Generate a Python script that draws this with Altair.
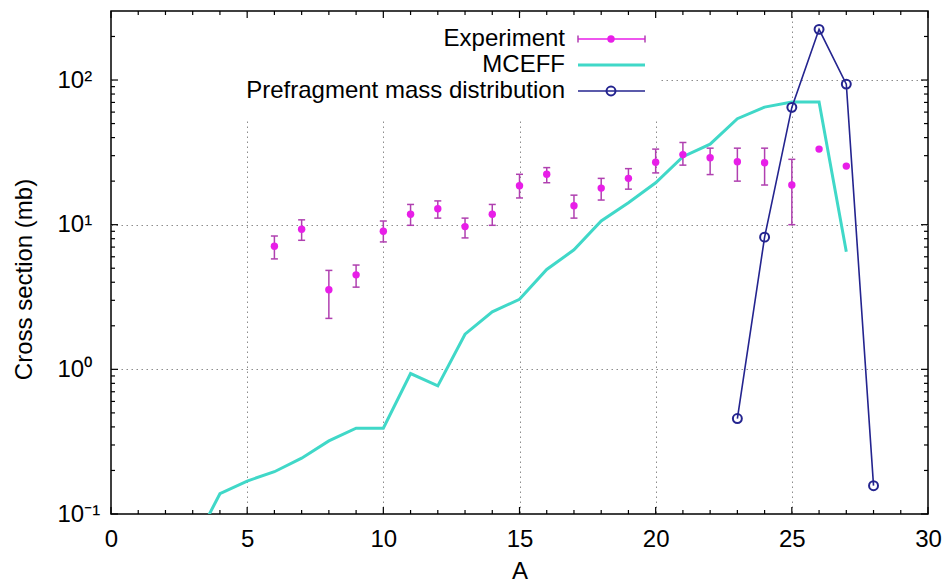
import altair as alt
import pandas as pd

# ---------------- data ----------------
exp_A = list(range(6, 28))
exp_val = [7.1, 9.3, 3.55, 4.5, 9.0, 11.8, 12.9, 9.7, 11.8, 18.6, 22.3, 13.5,
           17.9, 20.9, 27.0, 30.5, 29.0, 27.2, 26.8, 18.8, 33.3, 25.4]
err_A = list(range(6, 26))
err_lo = [5.8, 7.8, 2.25, 3.7, 7.6, 9.9, 11.1, 8.1, 9.9, 15.3, 19.5, 11.1,
          14.8, 17.6, 22.8, 25.8, 22.2, 20.0, 18.8, 10.0]
err_hi = [8.35, 10.8, 4.83, 5.26, 10.6, 13.8, 14.6, 11.1, 13.8, 22.3, 24.8, 16.0,
          20.9, 24.4, 33.3, 37.0, 33.8, 33.8, 33.8, 28.3]

mc_A = list(range(3, 28))
mc_val = [0.06, 0.138, 0.169, 0.196, 0.243, 0.32, 0.392, 0.392, 0.935, 0.769,
          1.75, 2.5, 3.05, 4.9, 6.7, 10.6, 14.2, 19.5, 29.5, 36.0, 54.0, 65.0,
          70.5, 70.5, 6.5]

pf_A = [23, 24, 25, 26, 27, 28]
pf_val = [0.457, 8.2, 64.7, 224.0, 93.7, 0.157]

legend_labels = ["Experiment", "MCEFF", "Prefragment mass distribution"]
x_title = "A"
y_title = "Cross section (mb)"

x_major = [0, 5, 10, 15, 20, 25, 30]
x_minor = [v for v in range(1, 30) if v % 5 != 0]
y_major = [0.1, 1, 10, 100]
y_major_labels = ["10\u207b\u00b9", "10\u2070", "10\u00b9", "10\u00b2"]
y_minor = [m * d for d in (0.1, 1, 10) for m in range(2, 10)] + [200]

# ---------------- styling ----------------
W, H = 817, 503
FONT = "Liberation Sans"
FS = 24
FS_KEY = 24
EXP_COLOR = "#e81ee8"
ERR_COLOR = "#b040b0"
MC_COLOR = "#40d8c8"
PF_COLOR = "#24248f"
GRID_COLOR = "#8c8c8c"

xscale = alt.Scale(domain=[0, 30], nice=False, zero=False)
yscale = alt.Scale(type="log", domain=[0.1, 300], nice=False)

label_expr = " : ".join(
    [f"datum.value < {th} ? '{lab}'" for th, lab in zip([0.5, 5, 50], y_major_labels[:3])]
) + f" : '{y_major_labels[3]}'"

x_axis = alt.Axis(
    values=x_major, title=x_title, grid=True, ticks=False, tickSize=0, domain=False,
    labelFontSize=FS, labelFont=FONT, labelPadding=13, labelColor="black",
    labelFlush=False, titleFontSize=FS, titleFont=FONT, titleFontWeight="normal",
    titleColor="black", titleBaseline="middle", titleY=57,
    gridColor=GRID_COLOR, gridDash=[1.5, 3.5], gridWidth=1,
    gridOpacity={"condition": {"test": "datum.value <= 0 || datum.value >= 30", "value": 0}, "value": 1},
)
y_axis = alt.Axis(
    values=y_major, title=y_title, grid=True, ticks=False, tickSize=0, domain=False,
    labelExpr=label_expr, labelFontSize=FS, labelFont=FONT, labelAlign="left",
    labelBaseline="middle", labelPadding=54, labelColor="black",
    labelFlush=False, labelOverlap=False,
    titleFontSize=FS, titleFont=FONT, titleFontWeight="normal", titleColor="black",
    titleBaseline="middle", titleAngle=270, titleX=-87, titleY=268,
    gridColor=GRID_COLOR, gridDash=[1.5, 3.5], gridWidth=1,
    gridOpacity={"condition": {"test": "datum.value < 0.5", "value": 0}, "value": 1},
)


def X(field):
    return alt.X(field, scale=xscale, axis=x_axis)


def Y(field):
    return alt.Y(field, scale=yscale, axis=y_axis)


mc_df = pd.DataFrame({"A": mc_A, "v": mc_val})
pf_df = pd.DataFrame({"A": pf_A, "v": pf_val})
exp_df = pd.DataFrame({"A": exp_A, "v": exp_val})
err_df = pd.DataFrame({"A": err_A, "lo": err_lo, "hi": err_hi})

mc_line = alt.Chart(mc_df).mark_line(color=MC_COLOR, strokeWidth=3, clip=True).encode(
    x=X("A:Q"), y=Y("v:Q"))

one = pd.DataFrame({"label": [legend_labels[0]]})

# opaque key box (hides the grid behind the key)
key_box = alt.Chart(one).mark_rect(color="white").encode(
    x=alt.value(1.5), x2=alt.value(547), y=alt.value(1.5), y2=alt.value(107)
)

pf_line = alt.Chart(pf_df).mark_line(color=PF_COLOR, strokeWidth=1.6, clip=True).encode(
    x=X("A:Q"), y=Y("v:Q"))
pf_pts = alt.Chart(pf_df).mark_point(color=PF_COLOR, filled=False, size=80, strokeWidth=2, opacity=1).encode(
    x=X("A:Q"), y=Y("v:Q"))

err_rule = alt.Chart(err_df).mark_rule(color=ERR_COLOR, strokeWidth=1.5).encode(
    x=X("A:Q"), y=Y("lo:Q"), y2="hi:Q")
cap_lo = alt.Chart(err_df).mark_point(shape="M-1,0L1,0", size=49, color=ERR_COLOR,
                                       filled=False, strokeWidth=1.5, opacity=1).encode(
    x=X("A:Q"), y=Y("lo:Q"))
cap_hi = alt.Chart(err_df).mark_point(shape="M-1,0L1,0", size=49, color=ERR_COLOR,
                                       filled=False, strokeWidth=1.5, opacity=1).encode(
    x=X("A:Q"), y=Y("hi:Q"))
exp_pts = alt.Chart(exp_df).mark_point(color=EXP_COLOR, filled=True, size=55, opacity=1).encode(
    x=X("A:Q"), y=Y("v:Q"))


# inward ticks on all four sides
def xticks(vals, length):
    d = pd.DataFrame({"A": vals})
    bot = alt.Chart(d).mark_rule(color="black", strokeWidth=1.2).encode(
        x=X("A:Q"), y=alt.value(H), y2=alt.value(H - length))
    top = alt.Chart(d).mark_rule(color="black", strokeWidth=1.2).encode(
        x=X("A:Q"), y=alt.value(0), y2=alt.value(length))
    return [bot, top]


def yticks(vals, length):
    d = pd.DataFrame({"v": vals})
    left = alt.Chart(d).mark_rule(color="black", strokeWidth=1.2).encode(
        y=Y("v:Q"), x=alt.value(0), x2=alt.value(length))
    right = alt.Chart(d).mark_rule(color="black", strokeWidth=1.2).encode(
        y=Y("v:Q"), x=alt.value(W), x2=alt.value(W - length))
    return [left, right]


tick_layers = xticks(x_major, 7) + xticks(x_minor, 4) + yticks(y_major, 7) + yticks(y_minor, 4)

# key
KX_TEXT, KX0, KX1, KXC = 454, 467, 534, 500
KY = [28, 54, 80]
key_layers = []
for lab, ky in zip(legend_labels, KY):
    key_layers.append(
        alt.Chart(pd.DataFrame({"label": [lab]})).mark_text(
            align="right", baseline="middle", font=FONT, fontSize=FS_KEY, color="black"
        ).encode(text="label:N", x=alt.value(KX_TEXT), y=alt.value(ky))
    )
# Experiment glyph
key_layers.append(alt.Chart(one).mark_rule(color=EXP_COLOR, strokeWidth=1.5).encode(
    x=alt.value(KX0), x2=alt.value(KX1), y=alt.value(KY[0])))
for cx in (KX0, KX1):
    key_layers.append(alt.Chart(one).mark_rule(color=ERR_COLOR, strokeWidth=1.5).encode(
        x=alt.value(cx), y=alt.value(KY[0] - 3.5), y2=alt.value(KY[0] + 3.5)))
key_layers.append(alt.Chart(one).mark_point(color=EXP_COLOR, filled=True, size=55, opacity=1).encode(
    x=alt.value(KXC), y=alt.value(KY[0])))
# MCEFF glyph
key_layers.append(alt.Chart(one).mark_rule(color=MC_COLOR, strokeWidth=3).encode(
    x=alt.value(KX0), x2=alt.value(KX1), y=alt.value(KY[1])))
# Prefragment glyph
key_layers.append(alt.Chart(one).mark_rule(color=PF_COLOR, strokeWidth=1.6).encode(
    x=alt.value(KX0), x2=alt.value(KX1), y=alt.value(KY[2])))
key_layers.append(alt.Chart(one).mark_point(color=PF_COLOR, filled=False, size=80, strokeWidth=2, opacity=1).encode(
    x=alt.value(KXC), y=alt.value(KY[2])))

chart = alt.layer(
    mc_line, key_box, pf_line, pf_pts, err_rule, cap_lo, cap_hi, exp_pts,
    *tick_layers, *key_layers
).properties(
    width=W, height=H,
    padding={"left": 111, "top": 11, "right": 17, "bottom": 69},
    autosize=alt.AutoSizeParams(type="none"),
    background="white",
).configure_view(stroke="black", strokeWidth=1.5)

chart.save("out.html", embed_options={"renderer": "svg", "actions": False})
